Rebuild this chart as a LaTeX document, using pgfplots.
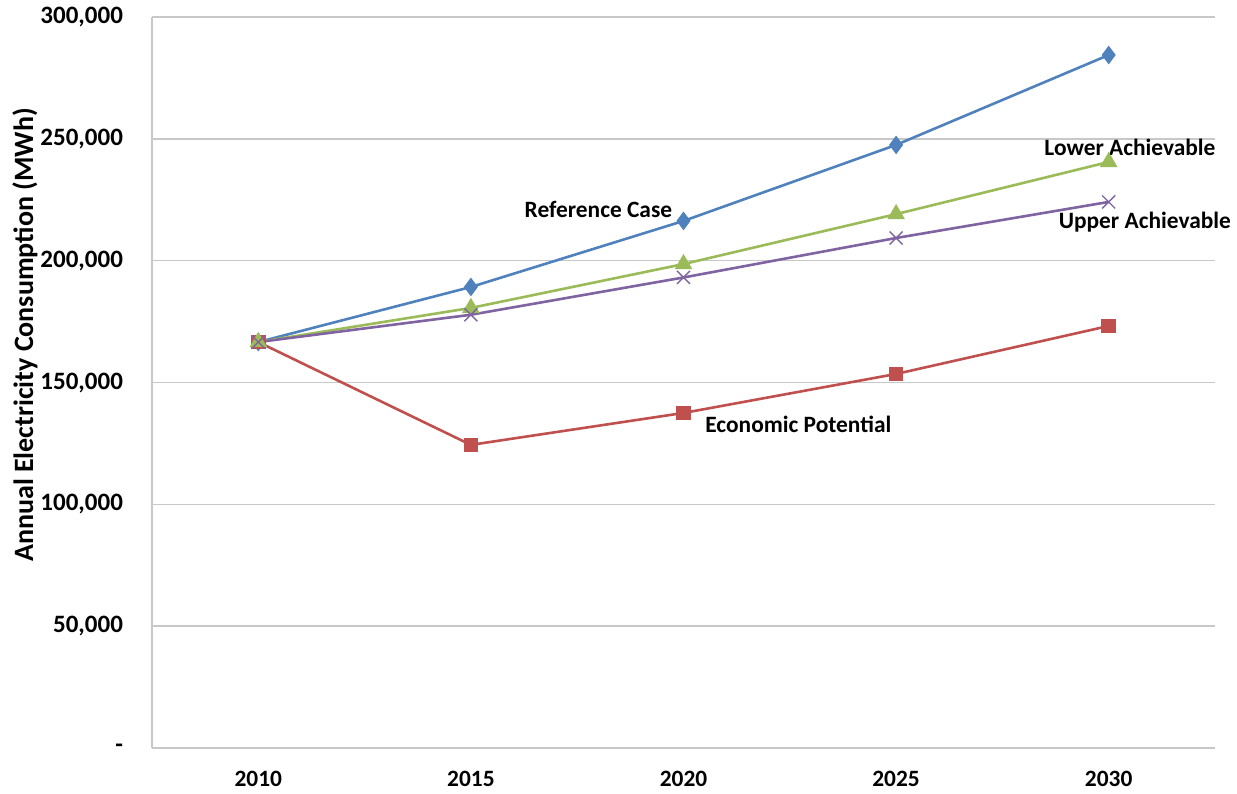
\documentclass[border=0pt]{standalone}
\usepackage{pgfplots}
\pgfplotsset{compat=1.18}
\usepackage{fontspec}
\setmainfont{Carlito}

\definecolor{refblue}{HTML}{4F81BD}
\definecolor{econred}{HTML}{C0504D}
\definecolor{lowgreen}{HTML}{9BBB59}
\definecolor{uppurple}{HTML}{8064A2}
\definecolor{gridgray}{HTML}{C8C8C8}

\begin{document}
\begin{tikzpicture}[x=0.5pt,y=0.5pt]
\begin{axis}[
  scale only axis,
  width=531.5pt, height=365.5pt,
  xmin=-0.5, xmax=4.5,
  ymin=0, ymax=300000,
  xtick={0,1,2,3,4},
  xticklabels={2010,2015,2020,2025,2030},
  ytick={0,50000,100000,150000,200000,250000,300000},
  yticklabels={{-},{50,000},{100,000},{150,000},{200,000},{250,000},{300,000}},
  ymajorgrids,
  grid style={gridgray, line width=0.7pt},
  axis x line*=bottom,
  axis y line*=left,
  axis line style={gridgray, line width=0.8pt, -},
  major tick length=0pt,
  tick label style={text=black},
  xticklabel style={font=\fontsize{11.7}{14}\selectfont\bfseries, yshift=-8pt},
  yticklabel style={font=\fontsize{12.5}{14}\selectfont\bfseries, xshift=-11pt},
  clip=false,
  every axis plot/.append style={line width=1.3pt},
]
% Reference Case
\addplot[refblue, mark=diamond*, mark size=3.6pt, mark options={fill=refblue}]
  coordinates {(0,166600) (1,189200) (2,216300) (3,247500) (4,284400)};
% Economic Potential
\addplot[econred, mark=square*, mark size=3pt, mark options={fill=econred}]
  coordinates {(0,166600) (1,124400) (2,137500) (3,153500) (4,173200)};
% Lower Achievable
\addplot[lowgreen, mark=triangle*, mark size=3.8pt, mark options={fill=lowgreen}]
  coordinates {(0,166600) (1,180600) (2,198600) (3,219100) (4,240500)};
% Upper Achievable
\addplot[uppurple, mark=x, mark size=4.6pt, mark options={line width=0.7pt}]
  coordinates {(0,166600) (1,177800) (2,193100) (3,209300) (4,224100)};

\tikzset{lbl/.style={font=\fontsize{11.7}{14}\selectfont\bfseries, text=black}}
\node[lbl] at (axis cs:1.60,221200) {Reference Case};
\node[lbl] at (axis cs:4.10,246600) {Lower Achievable};
\node[lbl] at (axis cs:4.17,215900) {Upper Achievable};
\node[lbl] at (axis cs:2.54,133000) {Economic Potential};
\end{axis}
\node[rotate=90, font=\fontsize{14}{16}\selectfont\bfseries] at (-127,413) {Annual Electricity Consumption (MWh)};
\pgfresetboundingbox
\path[use as bounding box] (-152,-45) rectangle (1085,748);
\end{tikzpicture}
\end{document}
